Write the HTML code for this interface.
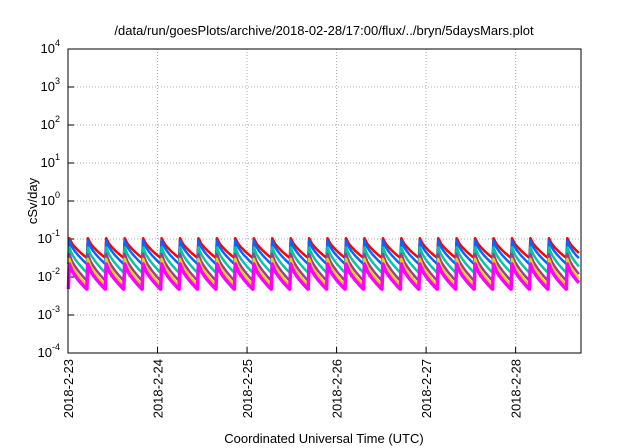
<!DOCTYPE html>
<html><head><meta charset="utf-8"><style>body{margin:0;background:#fff}svg{display:block;font-family:"Liberation Sans",sans-serif}</style></head>
<body>
<svg id="c" width="640" height="448"></svg>
<script>
const days=["2018-2-23","2018-2-24","2018-2-25","2018-2-26","2018-2-27","2018-2-28"];
const yTicks=[-4,-3,-2,-1,0,1,2,3,4];
const seriesNames=["red","blue","teal","purple","yellow","magenta"];
const seriesColors=["#ff0000","#0a64ff","#00c8a0","#a03c8c","#e6d200","#ff00ff"];
const peaks=[0.105,0.09,0.06,0.04,0.03,0.022];
const troughs=[0.032,0.022,0.013,0.008,0.006,0.0048];
const cyclePeriodDays=[0.206];
const spanDays=[5.73];
const W=640,H=448,L=68,R=581,T=49,B=353;
const sx=d=>L+d*(R-L)/spanDays[0];
const sy=v=>B-(Math.log10(v)+4)*(B-T)/8;
const svg=document.getElementById('c');const NS="http://www.w3.org/2000/svg";
function mk(t,a,p){const e=document.createElementNS(NS,t);for(const k in a)e.setAttribute(k,a[k]);(p||svg).appendChild(e);return e;}
// grid
yTicks.forEach(p=>{const y=sy(Math.pow(10,p));
 if(p>-4&&p<4){const g=mk('line',{x1:L,x2:R,y1:y,y2:y,stroke:'#aaa','stroke-dasharray':'1,2','stroke-width':1});
 
 }
 const tk=mk('line',{x1:L,x2:L+6,y1:y,y2:y,stroke:'#000'});
 
 
 const tx=mk('text',{x:L-8,y:y+4,'text-anchor':'end','font-size':13});
 
 
 tx.textContent='10';const s=mk('tspan',{dy:-7,'font-size':9},tx);s.textContent=p;});
days.forEach((d,i)=>{const x=sx(i);
 if(i>0){const g=mk('line',{x1:x,x2:x,y1:T,y2:B,stroke:'#aaa','stroke-dasharray':'1,2'});
 
 }
 const tk=mk('line',{x1:x,x2:x,y1:B,y2:B-6,stroke:'#000'});
 
 
 const tx=mk('text',{x:0,y:0,'text-anchor':'end','font-size':13,transform:`translate(${x+5},${B+6}) rotate(-90)`});
 
 
 tx.textContent=d;});
// series
const P=cyclePeriodDays[0];
seriesNames.forEach((n,si)=>{let pts=[];
 for(let t0=0.005;t0<spanDays[0];t0+=P){
  const pk=peaks[si],tr=troughs[si];
  pts.push([t0,tr]);
  for(let k=0;k<=6;k++){const f=k/6;const t=t0+0.01+f*(P-0.012);if(t>spanDays[0])break;
   const v=Math.exp(Math.log(pk)+(Math.log(tr)-Math.log(pk))*Math.pow(f,0.7));pts.push([t,v]);}
 }
 const pl=mk('polyline',{points:pts.map(p=>sx(p[0]).toFixed(1)+','+sy(p[1]).toFixed(1)).join(' '),fill:'none',stroke:seriesColors[si],'stroke-width':si==5?3.5:2.5,'stroke-linejoin':'round'});
 
 
});
const fr=mk('rect',{x:L,y:T,width:R-L,height:B-T,fill:'none',stroke:'#000','stroke-width':1});


const ti=mk('text',{x:324,y:35,'text-anchor':'middle','font-size':13});


ti.textContent='/data/run/goesPlots/archive/2018-02-28/17:00/flux/../bryn/5daysMars.plot';
const yl=mk('text',{x:0,y:0,'text-anchor':'middle','font-size':13,transform:'translate(37,201) rotate(-90)'});


yl.textContent='cSv/day';
const xl=mk('text',{x:324,y:443,'text-anchor':'middle','font-size':13});


xl.textContent='Coordinated Universal Time (UTC)';
</script>
</body></html>
